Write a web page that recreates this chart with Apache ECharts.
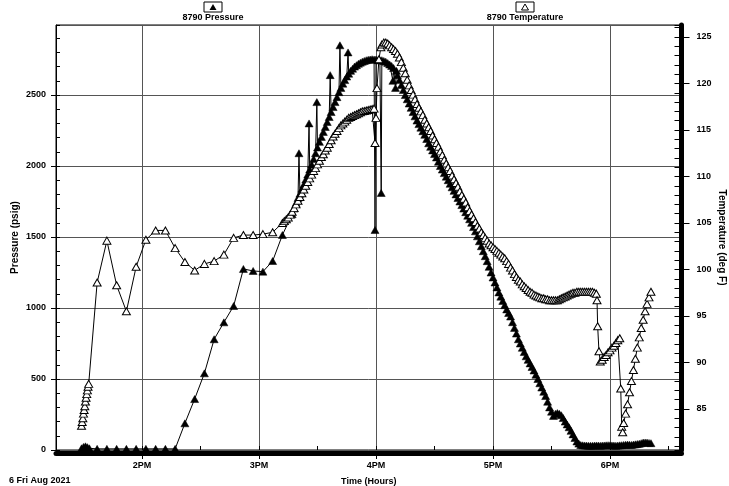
<!DOCTYPE html>
<html><head><meta charset="utf-8">
<script src="https://cdn.jsdelivr.net/npm/echarts@6/dist/echarts.min.js"></script>
<style>html,body{margin:0;padding:0;background:#fff}#c{width:729px;height:486px}</style>
</head><body><div id="c"></div>
<script>
// ---- data ----
const hourTickLabels = ['2PM', '3PM', '4PM', '5PM', '6PM'];
const hourTickValues = [14, 15, 16, 17, 18];
const dateLabel = '6 Fri Aug 2021';
const pressureName = '8790 Pressure';
const temperatureName = '8790 Temperature';

const pressureTimes = [
'13:29','13:30','13:31','13:32','13:33','13:37','13:42','13:47','13:52','13:57','14:02','14:07','14:12','14:17',
'14:22','14:27','14:32','14:37','14:42','14:47','14:52','14:57','15:02','15:07','15:12',
'15:17','15:18','15:19','15:20','15:20:30','15:21','15:22','15:23','15:24','15:25','15:25:40','15:26','15:27','15:28',
'15:29','15:29:40','15:30','15:31','15:32','15:33','15:34','15:35','15:36','15:36:30','15:37','15:38','15:39','15:40',
'15:41','15:41:30','15:42','15:43','15:44','15:45','15:45:40','15:46','15:47','15:48','15:49','15:50','15:51','15:52',
'15:53','15:54','15:55','15:56','15:57','15:58','15:59','15:59:30','16:00','16:01','16:02','16:02:40','16:03','16:04',
'16:05','16:06','16:07','16:08','16:08:40','16:09','16:10','16:10:30','16:11','16:12','16:13','16:14','16:15','16:16',
'16:17','16:18','16:19','16:20','16:21','16:22','16:23','16:24','16:25','16:26','16:27','16:28','16:29','16:30',
'16:31','16:32','16:33','16:34','16:35','16:36','16:37','16:38','16:39','16:40','16:41','16:42','16:43','16:44',
'16:45','16:46','16:47','16:48','16:49','16:50','16:51','16:52','16:53','16:54','16:55','16:56','16:57','16:58',
'16:59','17:00','17:01','17:02','17:03','17:04','17:05','17:06','17:07','17:08','17:09','17:10','17:11','17:12',
'17:13','17:14','17:15','17:16','17:17','17:18','17:19','17:20','17:21','17:22','17:23','17:24','17:25','17:26',
'17:27','17:28','17:29','17:30','17:31','17:32','17:33','17:34','17:35','17:36','17:37','17:38','17:39','17:40',
'17:41','17:42','17:43','17:44','17:45','17:46','17:47','17:48','17:49','17:50','17:51','17:52','17:53','17:54',
'17:55','17:56','17:57','17:58','17:59','18:00','18:01','18:02','18:03','18:04','18:05','18:06','18:07','18:08',
'18:09','18:10','18:11','18:12','18:13','18:14','18:15','18:16','18:17','18:18','18:19','18:20','18:21'
];
const pressureValues = [
12,22,26,20,12,8,8,8,8,8,8,8,8,8,
188,359,540,780,899,1014,1275,1261,1256,1331,1514,
1660,1700,1740,1775,2090,1805,1840,1870,1905,1940,2300,1975,2010,2050,
2090,2450,2130,2170,2205,2240,2275,2310,2345,2640,2380,2415,2450,2485,
2520,2850,2550,2580,2605,2630,2800,2650,2670,2685,2700,2710,2720,2728,
2735,2740,2745,2748,2750,2752,2750,1549,2750,2745,2745,1810,2745,2740,
2735,2725,2715,2705,2600,2690,2550,2670,2640,2605,2570,2535,2500,2470,
2440,2410,2380,2350,2320,2295,2270,2245,2220,2190,2160,2135,2110,2085,
2060,2030,2000,1975,1950,1925,1900,1875,1850,1825,1800,1775,1750,1725,
1700,1675,1650,1625,1600,1570,1540,1505,1470,1435,1400,1365,1330,1290,
1250,1215,1180,1145,1110,1080,1050,1020,990,965,940,900,860,820,
780,750,720,690,660,635,610,585,560,530,500,470,440,410,
380,340,300,270,240,255,260,255,245,225,200,180,160,135,
110,85,60,45,35,33,32,31,30,30,30,31,32,31,
30,31,32,33,34,33,32,31,30,31,33,34,36,37,
38,37,36,38,40,42,44,48,52,53,52,50,48
];

const temperatureTimes = [
'13:29:00','13:29:20','13:29:40','13:30:00','13:30:20','13:30:40','13:31:00','13:31:20','13:31:40','13:32:00','13:32:20','13:32:40',
'13:37','13:42','13:47','13:52','13:57','14:02','14:07','14:12','14:17','14:22','14:27','14:32','14:37','14:42','14:47',
'14:52','14:57','15:02','15:07',
'15:12','15:13','15:14','15:15','15:16','15:17','15:18','15:19','15:20','15:21','15:22','15:23','15:24','15:25',
'15:26','15:27','15:28','15:29','15:30','15:31','15:32','15:33','15:34','15:35','15:36','15:37','15:38','15:39',
'15:40','15:41','15:42','15:43','15:44','15:45','15:46','15:47','15:48','15:49','15:50','15:51','15:52','15:53',
'15:54','15:55','15:56','15:57','15:58','15:59','15:59:30','16:00:00','16:00:30','16:01:30','16:02:30','16:03','16:04',
'16:05','16:06','16:07','16:08','16:09','16:10','16:11','16:12','16:13','16:14','16:15','16:16','16:17','16:18',
'16:19','16:20','16:21','16:22','16:23','16:24','16:25','16:26','16:27','16:28','16:29','16:30','16:31','16:32',
'16:33','16:34','16:35','16:36','16:37','16:38','16:39','16:40','16:41','16:42','16:43','16:44','16:45','16:46',
'16:47','16:48','16:49','16:50','16:51','16:52','16:53','16:54','16:55','16:56','16:57','16:58','16:59','17:00',
'17:01','17:02','17:03','17:04','17:05','17:06','17:07','17:08','17:09','17:10','17:11','17:12','17:13','17:14',
'17:15','17:16','17:17','17:18','17:19','17:20','17:21','17:22','17:23','17:24','17:25','17:26','17:27','17:28',
'17:29','17:30','17:31','17:32','17:33','17:34','17:35','17:36','17:37','17:38','17:39','17:40','17:41','17:42',
'17:43','17:44','17:45','17:46','17:47','17:48','17:49','17:50','17:51','17:52','17:53:00',
'17:53:20','17:53:40','17:54:20','17:55','17:56','17:57','17:58','17:59','18:00','18:01','18:02','18:03','18:04','18:05',
'18:05:30','18:06:00','18:06:30','18:07','18:08','18:09','18:10','18:11','18:12','18:13','18:14','18:15','18:16','18:17',
'18:18','18:19','18:20','18:21'
];
const temperatureValues = [
83.2,83.6,84.0,84.5,84.9,85.3,85.8,86.2,86.6,87.0,87.4,87.7,
98.6,103.1,98.3,95.5,100.3,103.2,104.2,104.2,102.3,100.8,99.9,100.6,100.9,101.6,103.4,
103.7,103.7,103.8,104.0,
105.0,105.2,105.4,105.6,105.9,106.2,106.6,107.0,107.4,107.8,108.2,108.6,109.0,109.4,
109.8,110.2,110.6,110.9,111.3,111.7,112.1,112.4,112.8,113.1,113.5,113.9,114.3,114.6,
114.9,115.2,115.5,115.7,115.9,116.1,116.3,116.4,116.5,116.6,116.7,116.8,116.9,117.0,
117.05,117.1,117.15,117.2,117.25,117.3,113.6,116.3,119.5,122.6,123.9,124.2,124.4,
124.4,124.3,124.1,123.9,123.7,123.5,123.2,122.8,122.3,121.7,121.1,120.4,119.8,119.3,
118.8,118.3,117.8,117.4,117.0,116.6,116.1,115.7,115.3,114.9,114.4,114.0,113.6,113.2,
112.7,112.3,111.8,111.4,111.0,110.6,110.1,109.7,109.3,108.9,108.4,108.0,107.6,107.2,
106.7,106.3,105.9,105.5,105.1,104.7,104.4,104.0,103.7,103.4,103.1,102.8,102.6,102.4,
102.2,102.0,101.8,101.6,101.4,101.2,100.9,100.6,100.2,99.9,99.5,99.2,98.9,98.7,
98.4,98.2,98.0,97.8,97.6,97.5,97.3,97.2,97.1,97.0,96.9,96.9,96.8,96.8,
96.7,96.7,96.7,96.7,96.7,96.8,96.9,97.0,97.1,97.2,97.3,97.4,97.5,97.5,
97.6,97.6,97.6,97.6,97.6,97.6,97.6,97.6,97.6,97.5,97.4,
96.7,93.9,91.2,90.1,90.3,90.6,90.8,91.1,91.3,91.6,91.8,92.1,92.4,92.6,
87.2,83.1,82.5,83.5,84.5,85.5,86.8,88.0,89.2,90.4,91.6,92.7,93.7,94.6,
95.5,96.3,97.0,97.6
];

// ---- helpers ----
function toHours(t) {
  const p = t.split(':').map(Number);
  return p[0] + (p[1] || 0) / 60 + (p[2] || 0) / 3600;
}
const FONT = '"Liberation Sans", Arial, sans-serif';
const lbl = { fontFamily: FONT, fontWeight: 'bold', fontSize: 9, color: '#000' };
const nameStyle = { fontFamily: FONT, fontWeight: 'bold', fontSize: 10, color: '#000' };

const X_MIN = 13.265, X_MAX = 18.611;
const P_MIN = 0, P_MAX = 2993;
const T_MIN = 80.59, T_MAX = 126.29;

const chart = echarts.init(document.getElementById('c'), null, { renderer: 'canvas' });
chart.setOption({
  animation: false,
  backgroundColor: '#fff',
  grid: { left: 56, right: 47.5, top: 25, bottom: 36, containLabel: false, outerBoundsMode: 'none',
          show: true, borderColor: '#000', borderWidth: 1, backgroundColor: 'transparent' },
  xAxis: [
    {
      type: 'value', min: X_MIN, max: X_MAX, minInterval: 1, maxInterval: 1, position: 'bottom', offset: 3,
      axisLine: { show: true, onZero: false, lineStyle: { color: '#000', width: 5 } },
      axisTick: { show: true, length: 6, lineStyle: { color: '#000', width: 1 } },
      axisLabel: Object.assign({
        margin: 8, showMinLabel: false, showMaxLabel: false,
        formatter: function (v) {
          const i = hourTickValues.indexOf(Math.round(v * 1000) / 1000);
          return i >= 0 ? hourTickLabels[i] : '';
        }
      }, lbl),
      splitLine: { show: true, lineStyle: { color: '#555', width: 1 } },
      name: 'Time (Hours)', nameLocation: 'middle', nameGap: 24, nameTextStyle: lbl
    },
    {
      type: 'value', min: X_MIN, max: X_MAX, minInterval: 0.5, maxInterval: 0.5, position: 'bottom',
      axisLine: { show: false, onZero: false },
      axisTick: { show: true, inside: true, length: 4, lineStyle: { color: '#000' } },
      axisLabel: { show: false }, splitLine: { show: false }
    }
  ],
  yAxis: [
    {
      type: 'value', position: 'left', min: P_MIN, max: P_MAX, interval: 500,
      axisLine: { show: true, lineStyle: { color: '#000', width: 1 } },
      axisTick: { show: true, length: 5, lineStyle: { color: '#000' } },
      axisLabel: Object.assign({ margin: 10, showMaxLabel: false, formatter: v => String(v) }, lbl),
      splitLine: { show: true, lineStyle: { color: '#555', width: 1 } },
      name: 'Pressure (psig)', nameLocation: 'middle', nameGap: 36, nameRotate: 90, nameMoveOverlap: false,
      nameTextStyle: nameStyle
    },
    {
      type: 'value', position: 'left', min: P_MIN, max: P_MAX, interval: 100,
      axisLine: { show: false }, axisTick: { show: true, inside: true, length: 4, lineStyle: { color: '#000' } },
      axisLabel: { show: false }, splitLine: { show: false }
    },
    {
      type: 'value', position: 'right', min: T_MIN, max: T_MAX, minInterval: 5, maxInterval: 5,
      axisLine: { show: true, lineStyle: { color: '#000', width: 5 } },
      axisTick: { show: true, length: 8, lineStyle: { color: '#000' } },
      axisLabel: Object.assign({ margin: 15, showMinLabel: false, showMaxLabel: false, formatter: v => String(v) }, lbl),
      splitLine: { show: false },
      name: 'Temperature (deg F)', nameLocation: 'middle', nameGap: 35, nameRotate: -90, nameMoveOverlap: false,
      nameTextStyle: nameStyle
    },
    {
      type: 'value', position: 'right', min: T_MIN, max: T_MAX, minInterval: 1, maxInterval: 1,
      axisLine: { show: false }, axisTick: { show: true, inside: true, length: 7, lineStyle: { color: '#000' } },
      axisLabel: { show: false }, splitLine: { show: false }
    }
  ],
  series: [
    {
      type: 'line', name: pressureName, xAxisIndex: 0, yAxisIndex: 0,
      data: pressureTimes.map((t, i) => [toHours(t), pressureValues[i]]),
      symbol: 'triangle', symbolSize: [8, 7], showSymbol: true,
      lineStyle: { color: '#000', width: 1 }, itemStyle: { color: '#000', borderColor: '#000', borderWidth: 0.5 },
      emphasis: { disabled: true }, z: 2
    },
    {
      type: 'line', name: temperatureName, xAxisIndex: 0, yAxisIndex: 2,
      data: temperatureTimes.map((t, i) => [toHours(t), temperatureValues[i]]),
      symbol: 'triangle', symbolSize: [8, 7], showSymbol: true,
      lineStyle: { color: '#000', width: 1 }, itemStyle: { color: '#fff', borderColor: '#000', borderWidth: 1 },
      emphasis: { disabled: true }, z: 3
    }
  ],
  graphic: [
    { type: 'rect', shape: { x: 204, y: 2, width: 18, height: 10 }, style: { fill: '#fff', stroke: '#000', lineWidth: 1 } },
    { type: 'polygon', shape: { points: [[213, 4], [209.5, 10], [216.5, 10]] }, style: { fill: '#000' } },
    { type: 'text', style: { text: pressureName, x: 213, y: 18, align: 'center', verticalAlign: 'middle', fontFamily: FONT, fontWeight: 'bold', fontSize: 9, fill: '#000' } },
    { type: 'rect', shape: { x: 516, y: 2, width: 18, height: 10 }, style: { fill: '#fff', stroke: '#000', lineWidth: 1 } },
    { type: 'polygon', shape: { points: [[525, 4], [521.5, 10], [528.5, 10]] }, style: { fill: '#fff', stroke: '#000', lineWidth: 1 } },
    { type: 'text', style: { text: temperatureName, x: 525, y: 18, align: 'center', verticalAlign: 'middle', fontFamily: FONT, fontWeight: 'bold', fontSize: 9, fill: '#000' } },
    { type: 'text', style: { text: dateLabel, x: 9, y: 481, align: 'left', verticalAlign: 'middle', fontFamily: FONT, fontWeight: 'bold', fontSize: 9, fill: '#000' } }
  ]
});
</script>
</body></html>
